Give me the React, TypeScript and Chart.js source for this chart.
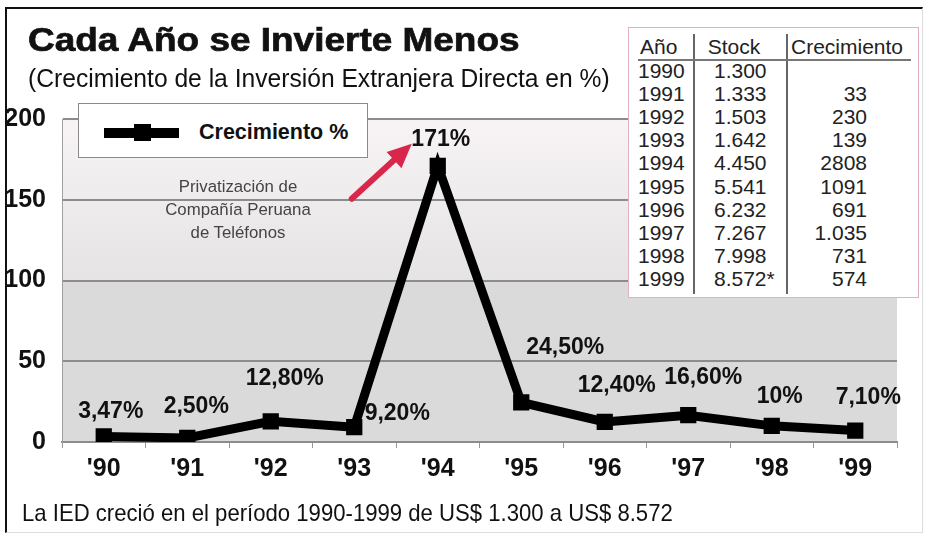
import React, { useEffect, useRef } from "react";
import { Chart, registerables } from "chart.js";
Chart.register(...registerables);

// ---- data ----
const years = ["'90", "'91", "'92", "'93", "'94", "'95", "'96", "'97", "'98", "'99"];
const growthPct = [3.47, 2.5, 12.8, 9.2, 171, 24.5, 12.4, 16.6, 10, 7.1];
const pointLabels = ["3,47%", "2,50%", "12,80%", "9,20%", "171%", "24,50%", "12,40%", "16,60%", "10%", "7,10%"];
const yTickValues = [0, 50, 100, 150, 200];
const tableYears = ["1990", "1991", "1992", "1993", "1994", "1995", "1996", "1997", "1998", "1999"];
const tableStock = ["1.300", "1.333", "1.503", "1.642", "4.450", "5.541", "6.232", "7.267", "7.998", "8.572*"];
const tableGrowth = ["", "33", "230", "139", "2808", "1091", "691", "1.035", "731", "574"];
const legendLabel = "Crecimiento %";
const titleText = "Cada Año se Invierte Menos";
const subtitleText = "(Crecimiento de la Inversión Extranjera Directa en %)";
const noteLines = ["Privatización de", "Compañía Peruana", "de Teléfonos"];
const footerText = "La IED creció en el período 1990-1999 de US$ 1.300 a US$ 8.572";

// ---- styles (label offsets in px relative to each point) ----
const labelOffsets: [number, number][] = [
  [7, -25], [9, -31], [14, -43], [43, -13], [3, -26],
  [44, -55], [12, -36], [15, -38], [8, -29], [13, -33],
];

const NARROW = '"Liberation Sans Narrow", "Arial Narrow", "Liberation Sans", Arial, sans-serif';
const SANS = '"Liberation Sans", Arial, Helvetica, sans-serif';

const bandsPlugin = {
  id: "bands",
  beforeDraw(chart: any) {
    const { ctx, chartArea, scales } = chart;
    const y = scales.y;
    const y200 = y.getPixelForValue(200);
    const y100 = y.getPixelForValue(100);
    const y0 = y.getPixelForValue(0);
    ctx.save();
    const g = ctx.createLinearGradient(0, y200, 0, y100);
    g.addColorStop(0, "#f8f4f6");
    g.addColorStop(1, "#e5e3e4");
    ctx.fillStyle = g;
    ctx.fillRect(chartArea.left, y200, chartArea.right - chartArea.left, y100 - y200);
    ctx.fillStyle = "#dadada";
    ctx.fillRect(chartArea.left, y100, chartArea.right - chartArea.left, y0 - y100);
    ctx.restore();
  },
};

const labelsPlugin = {
  id: "pointLabelsAndArrow",
  afterDatasetsDraw(chart: any) {
    const { ctx } = chart;
    const meta = chart.getDatasetMeta(0);
    ctx.save();
    // red arrow pointing at the peak
    const peak = meta.data[4];
    const tx = peak.x - 86, ty = peak.y + 33;
    const hx = peak.x - 26, hy = peak.y - 22;
    const ang = Math.atan2(hy - ty, hx - tx);
    const headLen = 24, headW = 11;
    const bx = hx - headLen * Math.cos(ang), by = hy - headLen * Math.sin(ang);
    ctx.strokeStyle = "#d9264b";
    ctx.fillStyle = "#d9264b";
    ctx.lineWidth = 6;
    ctx.lineCap = "round";
    ctx.beginPath();
    ctx.moveTo(tx, ty);
    ctx.lineTo(bx, by);
    ctx.stroke();
    ctx.beginPath();
    ctx.moveTo(hx, hy);
    ctx.lineTo(bx + headW * Math.sin(ang), by - headW * Math.cos(ang));
    ctx.lineTo(bx - headW * Math.sin(ang), by + headW * Math.cos(ang));
    ctx.closePath();
    ctx.fill();

    ctx.font = `bold 23px ${NARROW}`;
    ctx.fillStyle = "#111";
    ctx.textAlign = "center";
    ctx.textBaseline = "middle";
    meta.data.forEach((pt: any, i: number) => {
      const [dx, dy] = labelOffsets[i];
      ctx.fillText(pointLabels[i], pt.x + dx, pt.y + dy);
    });
    ctx.restore();
  },
};

const cell = (extra: React.CSSProperties): React.CSSProperties => ({
  position: "absolute",
  font: `21px ${NARROW}`,
  lineHeight: "22px",
  color: "#222",
  whiteSpace: "nowrap",
  ...extra,
});

export default function App() {
  const canvasRef = useRef<HTMLCanvasElement>(null);

  useEffect(() => {
    const canvas = canvasRef.current!;
    const chart = new Chart(canvas, {
      type: "line",
      data: {
        labels: years,
        datasets: [
          {
            label: legendLabel,
            data: growthPct,
            borderColor: "#000",
            backgroundColor: "#000",
            borderWidth: 9,
            borderJoinStyle: "miter",
            pointStyle: "rect",
            pointRadius: 11.5,
            pointBorderWidth: 0,
            pointBackgroundColor: "#000",
            tension: 0,
          },
        ],
      },
      options: {
        responsive: false,
        animation: false,
        devicePixelRatio: 1,
        layout: { padding: { top: 119, right: 30, bottom: 0, left: 0 } },
        plugins: { legend: { display: false }, tooltip: { enabled: false }, title: { display: false } },
        scales: {
          x: {
            type: "category",
            offset: true,
            afterFit(scale: any) {
              scale.height = 96;
            },
            grid: { drawOnChartArea: false, drawTicks: true, tickLength: 6, color: "#999", offset: true },
            border: { display: true, color: "#8c8c8c", width: 2 },
            ticks: {
              font: { family: NARROW, size: 25, weight: "bold" },
              color: "#111",
              padding: 6,
              maxRotation: 0,
            },
          },
          y: {
            min: 0,
            max: 200,
            afterFit(scale: any) {
              scale.width = 62;
            },
            afterBuildTicks(scale: any) {
              scale.ticks = yTickValues.map((v) => ({ value: v }));
            },
            grid: { color: "#8c8c8c", lineWidth: 2, drawTicks: false },
            border: { display: true, color: "#a0a0a0", width: 1 },
            ticks: {
              font: { family: NARROW, size: 25, weight: "bold" },
              color: "#111",
              padding: 16,
            },
          },
        },
      },
      plugins: [bandsPlugin, labelsPlugin],
    } as any);
    return () => chart.destroy();
  }, []);

  return (
    <div style={{ position: "fixed", left: 0, top: 0, width: 927, height: 538, background: "#fff", overflow: "hidden" }}>
      <div
        style={{
          position: "absolute", left: 5, top: 7, width: 915, height: 523,
          borderTop: "2px solid #111", borderLeft: "2px solid #111",
          borderRight: "1px solid #ddd", borderBottom: "1px solid #ddd",
        }}
      />
      <canvas ref={canvasRef} width={927} height={538} style={{ position: "absolute", left: 0, top: 0 }} />
      <div
        style={{
          position: "absolute", left: 28, top: 20, font: `bold 33px ${SANS}`, lineHeight: "40px", color: "#111",
          whiteSpace: "nowrap", transform: "scaleX(1.12)", transformOrigin: "left center",
          WebkitTextStroke: "0.7px #111",
        } as any}
      >
        {titleText}
      </div>
      <div style={{ position: "absolute", left: 28, top: 63, font: `25px ${NARROW}`, lineHeight: "30px", color: "#111", whiteSpace: "nowrap", transform: "scaleX(0.985)", transformOrigin: "left center" }}>
        {subtitleText}
      </div>
      <div style={{ position: "absolute", left: 22, top: 499, font: `24px ${NARROW}`, lineHeight: "28px", color: "#111", whiteSpace: "nowrap", transform: "scaleX(0.922)", transformOrigin: "left center" }}>
        {footerText}
      </div>
      {/* legend */}
      <div style={{ position: "absolute", left: 78, top: 103, width: 288, height: 53, background: "#fff", border: "1px solid #8a8a8a" }}>
        <div style={{ position: "absolute", left: 25, top: 24, width: 75, height: 10, background: "#000" }} />
        <div style={{ position: "absolute", left: 55, top: 20, width: 17, height: 17, background: "#000" }} />
        <div style={{ position: "absolute", left: 120, top: 14, font: `bold 21.5px ${NARROW}`, lineHeight: "28px", color: "#111", whiteSpace: "nowrap" }}>
          {legendLabel}
        </div>
      </div>
      {/* note */}
      <div style={{ position: "absolute", left: 138, top: 175, width: 200, textAlign: "center", font: `16.8px ${NARROW}`, lineHeight: "23px", color: "#444" }}>
        {noteLines.map((l, i) => (
          <div key={i}>{l}</div>
        ))}
      </div>
      {/* table */}
      <div style={{ position: "absolute", left: 628, top: 27, width: 289, height: 269, background: "#fff", border: "1.5px solid #e3b0c3" }}>
        <div style={{ position: "absolute", left: 64, top: 6, width: 2, height: 260, background: "#666" }} />
        <div style={{ position: "absolute", left: 157, top: 6, width: 2, height: 260, background: "#666" }} />
        <div style={{ position: "absolute", left: 9, top: 31, width: 273, height: 2, background: "#777" }} />
        <div style={cell({ left: 11, top: 8 })}>Año</div>
        <div style={cell({ left: 64, width: 82, top: 8, textAlign: "center" })}>Stock</div>
        <div style={cell({ left: 162, top: 8 })}>Crecimiento</div>
        {tableYears.map((yr, i) => (
          <React.Fragment key={yr}>
            <div style={cell({ left: 9, top: 32 + i * 23.1 })}>{yr}</div>
            <div style={cell({ left: 85, top: 32 + i * 23.1 })}>{tableStock[i]}</div>
            <div style={cell({ left: 150, width: 88, textAlign: "right", top: 32 + i * 23.1 })}>{tableGrowth[i]}</div>
          </React.Fragment>
        ))}
      </div>
    </div>
  );
}
